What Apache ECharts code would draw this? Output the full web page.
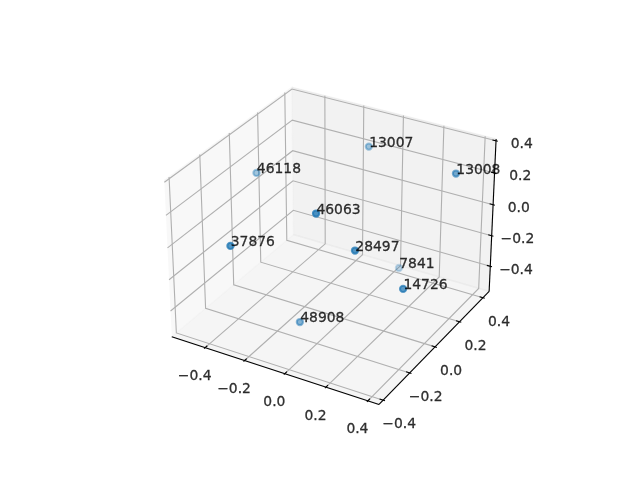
<!DOCTYPE html>
<html><head><meta charset="utf-8"><style>html,body{margin:0;background:#fff}#c{width:640px;height:480px}</style>
<script src="https://cdn.jsdelivr.net/npm/echarts@6/dist/echarts.min.js"></script></head>
<body><div id="c"></div><script>
const pointLabels=['46118','13007','13008','46063','28497','37876','7841','14726','48908'];
const xs=[-0.473,-0.076,0.386,0.032,0.186,-0.265,0.086,0.377,-0.076];
const ys=[0.048,0.303,0.242,-0.249,-0.202,-0.417,0.300,-0.141,-0.213];
const zs=[0.163,0.290,0.319,0.297,0.095,0.116,-0.433,-0.115,-0.447];
const xTicks=[-0.4,-0.2,0,0.2,0.4];
const yTicks=[-0.4,-0.2,0,0.2,0.4];
const zTicks=[-0.4,-0.2,0,0.2,0.4];
const xBox=[-0.5724,0.4523],yBox=[-0.4306,0.4536],zBox=[-0.5671,0.4107];
const bx=[xBox,yBox,zBox];
const lims=bx.map(b=>{const r=(b[1]-b[0])/(1+1/24);return [b[0]+r/48,b[1]-r/48];});
const DIST=10,el=30*Math.PI/180,az=-60*Math.PI/180,CX=333.385,CY=238.257,S=1994.32;
const box=(()=>{const a=[4,4,3],n=Math.hypot(...a);return a.map(v=>v*1.8294640721620434/n);})();
const R=box.map(v=>v/2);
const W=[Math.cos(el)*Math.cos(az),Math.cos(el)*Math.sin(az),Math.sin(el)];
const U=(()=>{const n=Math.hypot(W[0],W[1]);return [-W[1]/n,W[0]/n,0];})();
const V=[W[1]*U[2]-W[2]*U[1],W[2]*U[0]-W[0]*U[2],W[0]*U[1]-W[1]*U[0]];
const dot=(a,b)=>a[0]*b[0]+a[1]*b[1]+a[2]*b[2];
function view(p){const q=p.map((v,i)=>(v-lims[i][0])/(lims[i][1]-lims[i][0])*box[i]-R[i]);return [dot(q,U),dot(q,V),dot(q,W)];}
function proj(p){const [a,b,c]=view(p);const s=DIST-c;return [CX+S*a/s,CY-S*b/s];}
const [x0,x1]=bx[0],[y0,y1]=bx[1],[z0,z1]=bx[2];
const dl=bx.map(b=>(b[1]-b[0])/12);
const panes=[[[x0,y0,z0],[x0,y1,z0],[x0,y1,z1],[x0,y0,z1]],[[x0,y1,z0],[x1,y1,z0],[x1,y1,z1],[x0,y1,z1]],[[x0,y0,z0],[x1,y0,z0],[x1,y1,z0],[x0,y1,z0]]];
const paneCol=['rgba(242,242,242,.5)','rgba(230,230,230,.5)','rgba(236,236,236,.5)'];
const grid=[];xTicks.forEach(t=>grid.push([[t,y0,z0],[t,y1,z0],[t,y1,z1]]));yTicks.forEach(t=>grid.push([[x1,t,z0],[x0,t,z0],[x0,t,z1]]));zTicks.forEach(t=>grid.push([[x0,y0,t],[x0,y1,t],[x1,y1,t]]));
const ink=[[[x0,y0,z0],[x1,y0,z0]],[[x1,y0,z0],[x1,y1,z0]],[[x1,y1,z0],[x1,y1,z1]]];
xTicks.forEach(t=>ink.push([[t,y0-.1*dl[1],z0],[t,y0+.2*dl[1],z0]]));yTicks.forEach(t=>ink.push([[x1+.1*dl[0],t,z0],[x1-.2*dl[0],t,z0]]));zTicks.forEach(t=>ink.push([[x1+.1*dl[0],y1,t],[x1-.2*dl[0],y1,t]]));
function polys(name,list,style){return {type:'custom',name,coordinateSystem:'cartesian2d',silent:true,data:list.map((_,i)=>[i]),encode:{x:0,y:0},clip:false,
 renderItem(p,api){const pts=list[p.dataIndex].map(q=>api.coord(proj(q)));return style(pts,p.dataIndex);}};}
const sol=xs.map((x,i)=>[x,ys[i],zs[i]]);
const depths=sol.map(s=>view(s)[2]),dMin=Math.min(...depths),dMax=Math.max(...depths);
const pts=sol.map((s,i)=>{const a=1-.7*(dMax-depths[i])/(dMax-dMin);const c=`rgba(31,119,180,${a})`;return {value:proj(s),name:pointLabels[i],itemStyle:{color:c,borderColor:c,borderWidth:2.08}};});
const tick=(t,fn,dx,dy)=>({value:(p=>[p[0]+dx,p[1]+dy])(proj(fn(t))),name:t.toFixed(1).replace('-','\u2212')});
const tickData=[...xTicks.map(t=>tick(t,v=>[v,y0,z0],-10.5,29)),...yTicks.map(t=>tick(t,v=>[x1,v,z0],16,24.5)),...zTicks.map(t=>tick(t,v=>[x1,y1,v],25.7,3.7))];
const txt={color:'#000',fontFamily:'DejaVu Sans',fontSize:13.89,textBorderColor:'#000',textBorderWidth:0.3};
const chart=echarts.init(document.getElementById('c'));
chart.setOption({animation:false,backgroundColor:'#fff',grid:{left:0,right:0,top:0,bottom:0},xAxis:{type:'value',min:0,max:640,show:false},yAxis:{type:'value',min:0,max:480,inverse:true,show:false},
 series:[
 polys('panes',panes,(pts,i)=>({type:'group',children:[{type:'polygon',shape:{points:pts},style:{fill:paneCol[i]}},{type:'polyline',shape:{points:pts},style:{fill:null,stroke:paneCol[i],lineWidth:1.39}}]})),
 polys('grid',grid,pts=>({type:'polyline',shape:{points:pts},style:{fill:null,stroke:'#b0b0b0',lineWidth:1.11}})),
 polys('ink',ink,pts=>({type:'polyline',shape:{points:pts},style:{fill:null,stroke:'#000',lineWidth:1.11}})),
 {type:'scatter',name:'tickLabels',data:tickData,symbolSize:1,itemStyle:{color:'transparent'},silent:true,label:{show:true,position:'inside',formatter:'{b}',...txt}},
 {type:'scatter',name:'points',data:pts,symbolSize:6.2,label:{show:true,position:[4.5,8],align:'left',verticalAlign:'bottom',formatter:'{b}',...txt}}
 ]});
</script></body></html>
